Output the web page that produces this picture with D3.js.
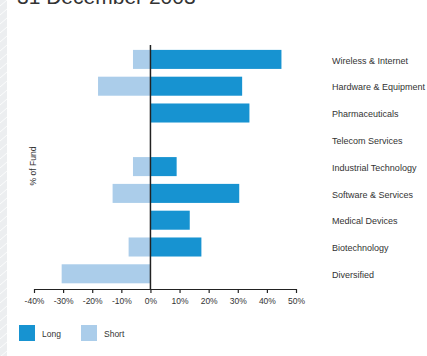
<!DOCTYPE html>
<html><head><meta charset="utf-8">
<script src="https://cdn.jsdelivr.net/npm/d3@7"></script>
<style>body{margin:0;background:#fff;}svg{display:block;font-family:Arial,"Liberation Sans",sans-serif;}</style>
</head><body>
<svg id="c" width="427" height="356"></svg>
<script>
const categories = ["Wireless & Internet","Hardware & Equipment","Pharmaceuticals","Telecom Services","Industrial Technology","Software & Services","Medical Devices","Biotechnology","Diversified"];
const longValues = [45, 31.5, 34, 0, 9, 30.5, 13.5, 17.5, 0];
const shortValues = [-6, -18, 0, 0, -6, -13, 0, -7.5, -30.5];
const tickValues = [-40,-30,-20,-10,0,10,20,30,40,50];
const seriesNames = ["Long","Short"];
const colors = {Long:"#1793d1", Short:"#abcdea"};

const svg = d3.select("#c");
// left decorative stripe
svg.append("rect").attr("x",0).attr("y",0).attr("width",7).attr("height",356).attr("fill","#eceef0");
for(let i=-2;i<40;i++){
  svg.append("line").attr("x1",0).attr("y1",i*9+6).attr("x2",7).attr("y2",i*9).attr("stroke","#fff").attr("stroke-width",0.8);
}
svg.append("text").attr("x",17).attr("y",4).attr("font-size",21).attr("fill","#333").text("31 December 2003");

const x = d3.scaleLinear().domain([-40,50]).range([34,296]);
const y = d3.scaleBand().domain(categories).range([46,287.2]).paddingInner(0.29).paddingOuter(0.145);

const g = svg.append("g");
g.selectAll("rect.s").data(categories).join("rect").attr("class","s")
  .attr("x",(d,i)=>x(Math.min(0,shortValues[i]))).attr("y",d=>y(d))
  .attr("width",(d,i)=>Math.abs(x(shortValues[i])-x(0))).attr("height",y.bandwidth())
  .attr("fill",colors.Short);
g.selectAll("rect.l").data(categories).join("rect").attr("class","l")
  .attr("x",x(0)).attr("y",d=>y(d))
  .attr("width",(d,i)=>Math.abs(x(longValues[i])-x(0))).attr("height",y.bandwidth())
  .attr("fill",colors.Long);

svg.append("line").attr("x1",x(0)).attr("x2",x(0)).attr("y1",45).attr("y2",289).attr("stroke","#222").attr("stroke-width",1.5);

const ax = svg.append("g").attr("transform","translate(0,289)")
  .call(d3.axisBottom(x).tickValues(tickValues).tickSize(4).tickSizeOuter(0).tickFormat(d=>d+"%"));
ax.select(".domain").attr("stroke","#222").attr("stroke-width",1.2);
ax.selectAll(".tick line").attr("stroke","#222").attr("stroke-width",1.2);
ax.selectAll(".tick text").attr("font-size",8.5).attr("fill","#333").attr("dy","0.9em").attr("font-family","Arial,'Liberation Sans',sans-serif");

svg.append("g").selectAll("text").data(categories).join("text")
  .attr("x",332).attr("y",d=>y(d)+y.bandwidth()/2+1).attr("dy","0.35em")
  .attr("font-size",9).attr("fill","#333").text(d=>d);

svg.append("text").attr("transform","translate(33,166) rotate(-90)").attr("text-anchor","middle").attr("dy","0.35em")
  .attr("font-size",8.5).attr("fill","#333").text("% of Fund");

const legX = [19,81];
seriesNames.forEach((n,i)=>{
  svg.append("rect").attr("x",legX[i]).attr("y",325).attr("width",16).attr("height",16).attr("fill",colors[n]);
  svg.append("text").attr("x",legX[i]+23).attr("y",334).attr("dy","0.35em").attr("font-size",8.5).attr("fill","#333").text(n);
});
</script>
</body></html>
